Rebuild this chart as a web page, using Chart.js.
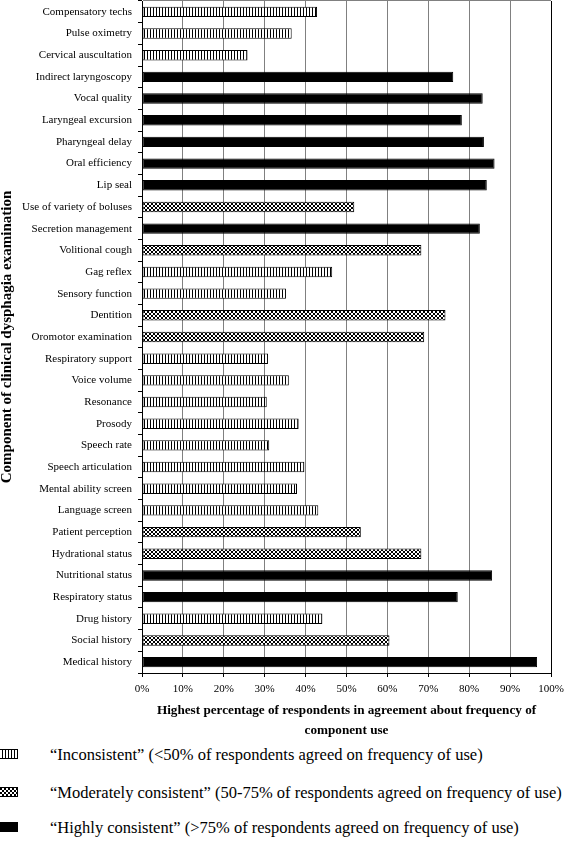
<!DOCTYPE html>
<html>
<head>
<meta charset="utf-8">
<script src="https://cdn.jsdelivr.net/npm/chart.js@4.4.1/dist/chart.umd.min.js"></script>
<style>
  body { margin: 0; background: #fff; width: 566px; height: 845px; overflow: hidden; position: relative; }
  #stats { position: absolute; left: 0; top: 0; }
  .legend-row { position: absolute; left: 0; height: 20px; font-family: "Liberation Serif", serif; font-size: 16.5px; color: #000; }
  .legend-row canvas { position: absolute; left: -1px; top: 4px; }
  .legend-row span { position: absolute; left: 50px; top: 0; white-space: nowrap; line-height: 20px; }
</style>
</head>
<body>
<canvas id="stats" width="566" height="745"></canvas>
<div id="legend"></div>
<script>
  // components, top to bottom
  const components = [
    "Compensatory techs", "Pulse oximetry", "Cervical auscultation", "Indirect laryngoscopy",
    "Vocal quality", "Laryngeal excursion", "Pharyngeal delay", "Oral efficiency", "Lip seal",
    "Use of variety of boluses", "Secretion management", "Volitional cough", "Gag reflex",
    "Sensory function", "Dentition", "Oromotor examination", "Respiratory support",
    "Voice volume", "Resonance", "Prosody", "Speech rate", "Speech articulation",
    "Mental ability screen", "Language screen", "Patient perception", "Hydrational status",
    "Nutritional status", "Respiratory status", "Drug history", "Social history", "Medical history",
  ];
  const agreement = [
    42.8, 36.6, 25.8, 76.1,
    83.3, 78.2, 83.6, 86.2, 84.3,
    51.9, 82.6, 68.3, 46.5,
    35.2, 74.2, 69.0, 30.8,
    35.9, 30.5, 38.3, 31.1, 39.7,
    37.9, 43.1, 53.5, 68.3,
    85.6, 77.2, 44.1, 60.5, 96.6,
  ];
  // 0 = inconsistent, 1 = moderately consistent, 2 = highly consistent
  const consistency = [
    0, 0, 0, 2,
    2, 2, 2, 2, 2,
    1, 2, 1, 0,
    0, 1, 1, 0,
    0, 0, 0, 0, 0,
    0, 0, 1, 1,
    2, 2, 0, 1, 2,
  ];
  const xTicks = [0, 10, 20, 30, 40, 50, 60, 70, 80, 90, 100];
  const legendLabels = [
    "\u201cInconsistent\u201d (<50% of respondents agreed on frequency of use)",
    "\u201cModerately consistent\u201d (50-75% of respondents agreed on frequency of use)",
    "\u201cHighly consistent\u201d (>75% of respondents agreed on frequency of use)",
  ];

  function makeStripes() {
    const c = document.createElement("canvas");
    c.width = 3; c.height = 1;
    const g = c.getContext("2d");
    g.fillStyle = "#fff"; g.fillRect(0, 0, 3, 1);
    g.fillStyle = "#000"; g.fillRect(0, 0, 1, 1);
    return c;
  }
  function makeCross() {
    const c = document.createElement("canvas");
    c.width = 4; c.height = 4;
    const g = c.getContext("2d");
    g.fillStyle = "#fff"; g.fillRect(0, 0, 4, 4);
    g.fillStyle = "#000";
    for (let i = 0; i < 4; i++) {
      g.fillRect(i, i, 1, 1);
      g.fillRect(3 - i, i, 1, 1);
    }
    return c;
  }

  const ctx = document.getElementById("stats").getContext("2d");
  const fills = [
    ctx.createPattern(makeStripes(), "repeat"),
    ctx.createPattern(makeCross(), "repeat"),
    "#000",
  ];

  const serif = "'Liberation Serif', 'Times New Roman', serif";

  new Chart(ctx, {
    type: "bar",
    data: {
      labels: components,
      datasets: [{
        data: agreement,
        backgroundColor: consistency.map((k) => fills[k]),
        borderColor: "#000",
        borderWidth: 1,
        borderSkipped: false,
        categoryPercentage: 1,
        barPercentage: 0.48,
      }],
    },
    options: {
      indexAxis: "y",
      responsive: false,
      animation: false,
      layout: { padding: { top: 1, right: 15, left: 0, bottom: 0 } },
      plugins: { legend: { display: false }, tooltip: { enabled: false } },
      scales: {
        x: {
          min: 0,
          max: 100,
          afterBuildTicks: (scale) => { scale.ticks = xTicks.map((v) => ({ value: v })); },
          afterFit: (scale) => {
            scale.height = 72;
            scale.paddingLeft = 0;
            scale.paddingRight = 0;
          },
          grid: {
            color: (c) => (c.tick && c.tick.value === 100 ? "#000" : "#808080"),
            tickColor: "#000",
            tickLength: 4,
            lineWidth: 1,
          },
          border: { color: "#000", width: 1 },
          ticks: {
            padding: 6,
            color: "#000",
            maxRotation: 0,
            font: { family: serif, size: 11 },
            callback: (v) => v + "%",
          },
          title: {
            display: true,
            text: ["Highest percentage of respondents in agreement about frequency of", "component use"],
            color: "#000",
            font: { family: serif, size: 13.2, weight: "bold", lineHeight: 1.5 },
            padding: { top: 0, bottom: 5 },
          },
        },
        y: {
          afterFit: (scale) => {
            scale.width = 142;
            scale.paddingTop = 0;
            scale.paddingBottom = 0;
          },
          grid: {
            offset: true,
            color: (c) => (c.index === 0 ? "#808080" : "rgba(0,0,0,0)"),
            tickColor: "#000",
            tickLength: 4,
          },
          border: { color: "#000", width: 1 },
          ticks: {
            padding: 6,
            color: "#000",
            autoSkip: false,
            font: { family: serif, size: 11 },
          },
          title: {
            display: true,
            text: "Component of clinical dysphagia examination",
            color: "#000",
            font: { family: serif, size: 15, weight: "bold", lineHeight: 1.0 },
            padding: 0,
          },
        },
      },
    },
  });

  // legend below the chart
  const legend = document.getElementById("legend");
  const rowTops = [745, 783, 818];
  legendLabels.forEach((text, k) => {
    const row = document.createElement("div");
    row.className = "legend-row";
    row.style.top = rowTops[k] + "px";
    const sw = document.createElement("canvas");
    sw.width = 19; sw.height = 10;
    const g = sw.getContext("2d");
    g.fillStyle = k === 0 ? g.createPattern(makeStripes(), "repeat")
      : k === 1 ? g.createPattern(makeCross(), "repeat") : "#000";
    g.fillRect(0, 0, 19, 10);
    g.strokeStyle = "#000"; g.lineWidth = 1;
    g.strokeRect(0.5, 0.5, 18, 9);
    const label = document.createElement("span");
    label.textContent = text;
    row.appendChild(sw);
    row.appendChild(label);
    legend.appendChild(row);
  });
</script>
</body>
</html>
